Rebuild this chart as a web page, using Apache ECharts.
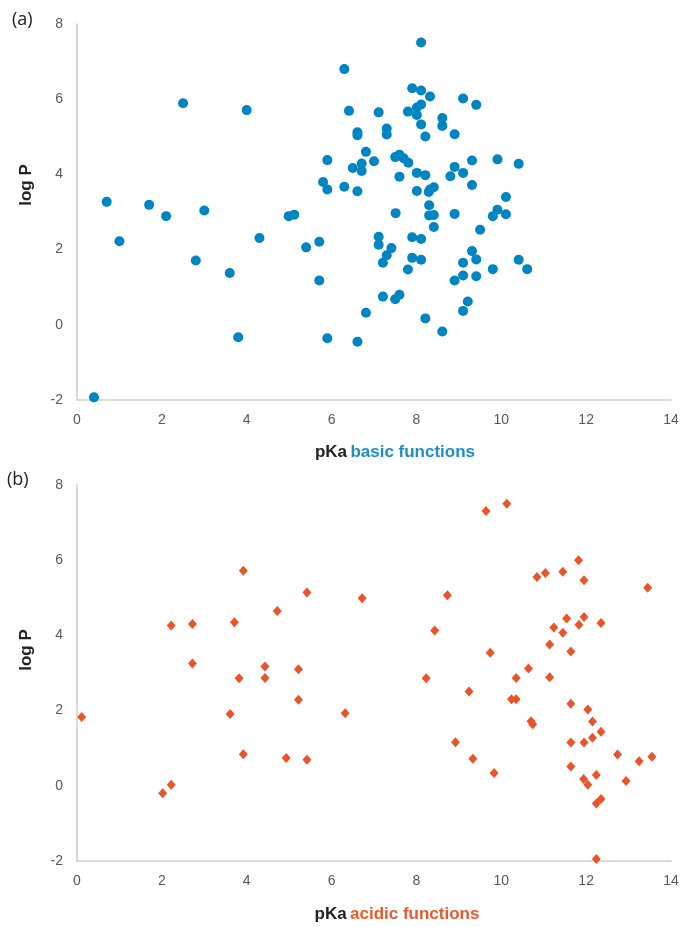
<!DOCTYPE html>
<html>
<head>
<meta charset="utf-8">
<script src="https://cdn.jsdelivr.net/npm/echarts@6/dist/echarts.min.js"></script>
<style>
html,body{margin:0;padding:0;background:#fff;}
#chart{width:684px;height:927px;}
</style>
</head>
<body>
<div id="chart"></div>
<script>
// Panel (a): basic functions, pKa vs log P
const basicPKa = [0.40,0.70,1.00,1.70,2.10,2.50,2.80,3.00,3.60,3.80,4.00,4.30,4.99,5.12,5.40,
  8.11,6.30,7.90,8.11,8.32,9.10,9.41,6.41,7.11,7.80,8.01,8.11,8.01,8.11,8.61,8.61,8.21,8.90,6.61,6.61,7.30,7.30,
  5.90,6.81,6.71,6.50,6.71,7.00,7.50,7.60,7.70,7.81,8.01,8.21,7.60,5.80,5.90,6.30,6.61,8.01,8.32,8.41,8.29,8.30,8.30,8.41,8.41,
  7.51,8.90,8.90,8.80,9.10,9.31,9.31,9.91,10.41,10.11,9.91,9.80,10.11,9.50,
  7.11,7.11,7.41,7.30,7.21,7.90,8.11,7.90,8.11,7.80,5.71,5.71,9.31,9.41,9.10,9.10,8.90,9.41,9.80,10.41,10.61,
  7.21,7.50,7.60,6.81,8.21,9.21,9.10,8.61,5.90,6.61];
const basicLogP = [-1.93,3.27,2.22,3.19,2.89,5.89,1.71,3.04,1.38,-0.33,5.71,2.31,2.89,2.93,2.06,
  7.51,6.80,6.29,6.23,6.07,6.02,5.85,5.69,5.65,5.67,5.78,5.86,5.58,5.33,5.50,5.29,5.01,5.07,5.12,5.04,5.22,5.06,
  4.38,4.60,4.29,4.17,4.09,4.35,4.46,4.52,4.43,4.31,4.04,3.98,3.94,3.80,3.60,3.67,3.55,3.56,3.60,3.66,3.53,3.18,2.91,2.92,2.60,
  2.97,2.95,4.20,3.95,4.04,4.37,3.72,4.40,4.28,3.40,3.06,2.89,2.94,2.53,
  2.34,2.13,2.04,1.85,1.65,2.33,2.28,1.78,1.73,1.47,2.21,1.18,1.96,1.74,1.65,1.31,1.18,1.29,1.48,1.73,1.48,
  0.75,0.68,0.80,0.32,0.17,0.62,0.37,-0.18,-0.36,-0.45];

// Panel (b): acidic functions, pKa vs log P
const acidicPKa = [0.11,2.02,2.22,2.22,2.72,2.72,3.61,3.71,3.82,3.92,3.92,4.43,4.43,4.72,4.93,5.22,5.22,5.42,5.42,
  6.72,6.32,9.64,10.13,8.73,8.43,8.23,9.74,9.24,10.35,10.24,10.35,8.92,9.33,9.83,
  11.82,10.84,11.04,11.45,11.95,13.45,11.54,11.95,11.83,12.35,11.24,11.45,11.14,11.64,10.64,11.14,
  10.70,10.74,11.64,12.04,12.15,12.35,12.15,11.95,11.64,12.74,13.25,13.55,11.64,12.24,12.94,11.94,12.04,12.24,12.35,12.24];
const acidicLogP = [1.83,-0.20,0.03,4.26,4.30,3.25,1.91,4.35,2.86,5.72,0.84,3.17,2.87,4.65,0.74,3.10,2.29,5.14,0.69,
  4.99,1.93,7.31,7.50,5.07,4.13,2.86,3.54,2.51,2.87,2.30,2.30,1.16,0.72,0.34,
  6.00,5.55,5.66,5.69,5.47,5.27,4.45,4.49,4.28,4.33,4.21,4.07,3.76,3.57,3.12,2.89,
  1.72,1.64,2.18,2.03,1.71,1.44,1.28,1.15,1.15,0.83,0.65,0.77,0.51,0.29,0.13,0.18,0.03,-0.47,-0.35,-1.95];

const xTicksMin = 0, xTicksMax = 14, xStep = 2;
const yTicksMin = -2, yTicksMax = 8, yStep = 2;

const pair = (xs, ys) => xs.map((x, i) => [x, ys[i]]);

const chart = echarts.init(document.getElementById('chart'), null, {renderer: 'canvas'});
const FONT = '"Liberation Sans", Arial, sans-serif';
const axisLine = {show: true, onZero: false, lineStyle: {color: '#d2d0cc', width: 1.6}};
const tickLabel = {color: '#595959', fontSize: 14, fontFamily: FONT};

function xAxis(gi) {
  return {gridIndex: gi, type: 'value', min: xTicksMin, max: xTicksMax, interval: xStep,
    axisLine: axisLine, axisTick: {show: false}, splitLine: {show: false},
    axisLabel: Object.assign({margin: 13}, tickLabel)};
}
function yAxis(gi) {
  return {gridIndex: gi, type: 'value', min: yTicksMin, max: yTicksMax, interval: yStep,
    axisLine: axisLine, axisTick: {show: false}, splitLine: {show: false},
    axisLabel: Object.assign({margin: 14}, tickLabel)};
}

chart.setOption({
  animation: false,
  backgroundColor: '#ffffff',
  grid: [
    {left: 77, top: 24, width: 594, height: 376},
    {left: 77, top: 485, width: 594, height: 376}
  ],
  xAxis: [xAxis(0), xAxis(1)],
  yAxis: [yAxis(0), yAxis(1)],
  series: [
    {type: 'scatter', xAxisIndex: 0, yAxisIndex: 0, symbol: 'circle', symbolSize: 10,
      itemStyle: {color: '#0085c3', opacity: 1}, data: pair(basicPKa, basicLogP)},
    {type: 'scatter', xAxisIndex: 1, yAxisIndex: 1, symbol: 'diamond', symbolSize: [9, 10],
      itemStyle: {color: '#e9542a', opacity: 1}, data: pair(acidicPKa, acidicLogP)}
  ],
  graphic: [
    {type: 'text', left: 12, top: 11, style: {text: '(a)', font: '18px "Open Sans", sans-serif', fill: '#222'}},
    {type: 'text', left: 7, top: 471, style: {text: '(b)', font: '18px "Open Sans", sans-serif', fill: '#222'}},
    {type: 'text', x: 26, y: 185, rotation: Math.PI / 2,
      style: {text: 'log P', font: 'bold 17px ' + FONT, fill: '#222', align: 'center', verticalAlign: 'middle'}},
    {type: 'text', x: 26, y: 650, rotation: Math.PI / 2,
      style: {text: 'log P', font: 'bold 17px ' + FONT, fill: '#222', align: 'center', verticalAlign: 'middle'}},
    {type: 'text', x: 395, y: 452,
      style: {text: '{k|pKa} {b|basic functions}', align: 'center', verticalAlign: 'middle',
        rich: {k: {font: 'bold 17px ' + FONT, fill: '#222', color: '#222'},
               b: {font: 'bold 17px ' + FONT, fill: '#1a8ec8', color: '#1a8ec8'}}}},
    {type: 'text', x: 397, y: 914,
      style: {text: '{k|pKa} {b|acidic functions}', align: 'center', verticalAlign: 'middle',
        rich: {k: {font: 'bold 17px ' + FONT, fill: '#222', color: '#222'},
               b: {font: 'bold 17px ' + FONT, fill: '#ea5a2e', color: '#ea5a2e'}}}}
  ]
});
</script>
</body>
</html>
